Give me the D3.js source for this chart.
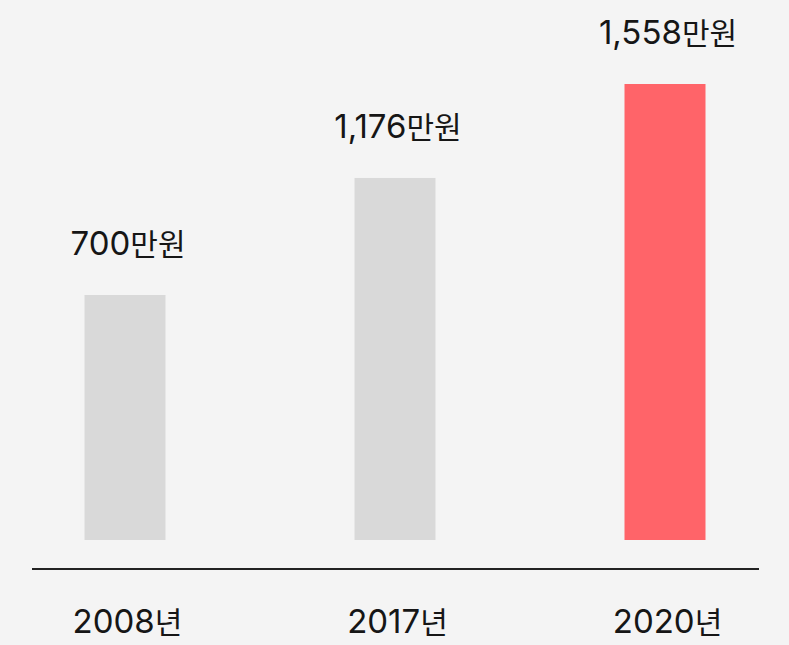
<!DOCTYPE html>
<html lang="ko">
  <head>
    <meta charset="utf-8">
    <title>연도별 금액</title>
    <style>
      body { margin: 0; background: #f4f4f4; }
      svg { display: block; }
      text { font-family: Inter, "Noto Sans CJK KR", sans-serif; fill: #161616; }
      .unit { font-family: "Noto Sans CJK KR", sans-serif; }
    </style>
  </head>
  <body>
    <svg width="789" height="645"></svg>
    <script src="https://d3js.org/d3.v7.min.js"></script>
    <script>
      // data
      var years = ["2008", "2017", "2020"];
      var values = [700, 1176, 1558];
      var valueUnit = "만원";
      var yearUnit = "년";
      var barColors = ["#d9d9d9", "#d9d9d9", "#ff6469"];

      var svg = d3.select("svg");
      var baseY = 540;
      var barW = 81;
      var fmt = d3.format(",");

      var x = d3.scalePoint().domain(years).range([125, 665]);
      // bars in the picture are not zero-based; domain start fitted to the drawn heights
      var y = d3.scaleLinear().domain([-296, 1558]).range([baseY, 84]);

      svg.append("g")
        .selectAll("rect")
        .data(years)
        .enter()
        .append("rect")
        .attr("x", d => x(d) - barW / 2)
        .attr("width", barW)
        .attr("y", (d, i) => y(values[i]))
        .attr("height", (d, i) => baseY - y(values[i]))
        .attr("fill", (d, i) => barColors[i]);

      var labels = svg.append("g")
        .selectAll("text")
        .data(years)
        .enter()
        .append("text")
        .attr("x", d => x(d) + 3)
        .attr("y", (d, i) => y(values[i]) - 40)
        .attr("text-anchor", "middle")
        .style("font-size", "33px");
      labels.append("tspan").text((d, i) => fmt(values[i]));
      labels.append("tspan").attr("class", "unit").style("font-size", "30px").text(valueUnit);

      // bottom axis: just the line and the year labels
      var axis = svg.append("g")
        .attr("transform", "translate(0,569)")
        .call(d3.axisBottom(x).tickSize(0).tickPadding(64))
        .call(g => g.select(".domain").attr("d", "M32,0H759").attr("stroke", "#222").attr("stroke-width", 2));

      axis.selectAll(".tick text")
        .attr("dy", null)
        .attr("x", 2)
        .style("font-family", null)
        .style("font-size", "33px")
        .style("fill", "#161616")
        .text(null)
        .call(t => {
          t.append("tspan").text(d => d);
          t.append("tspan").attr("class", "unit").style("font-size", "30px").text(yearUnit);
        });
    </script>
  </body>
</html>
